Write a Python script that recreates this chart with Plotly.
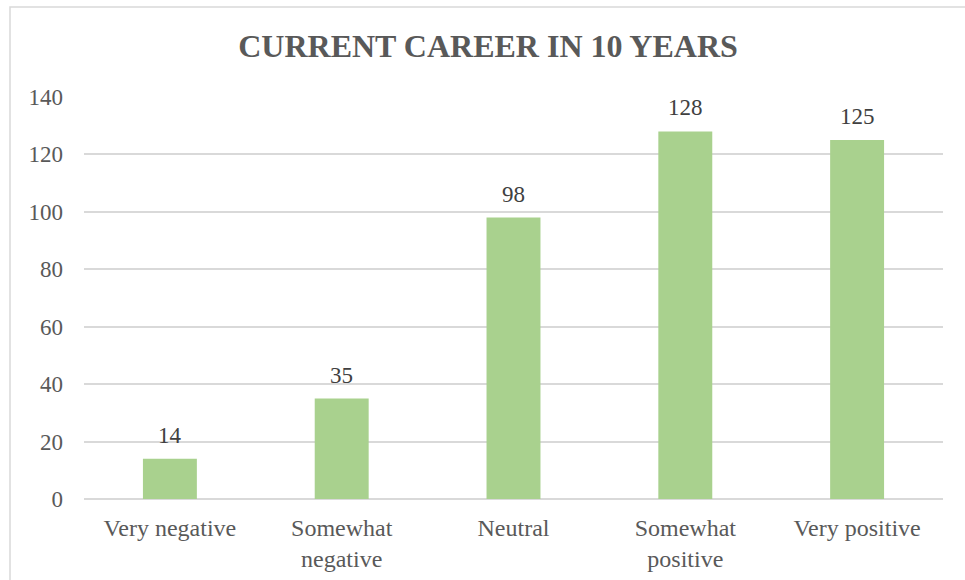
import plotly.graph_objects as go

categories = ["Very negative", "Somewhat<br>negative", "Neutral", "Somewhat<br>positive", "Very positive"]
counts = [14, 35, 98, 128, 125]
y_ticks = [0, 20, 40, 60, 80, 100, 120, 140]

FONT = "Liberation Serif"
BAR_COLOR = "#a9d18e"
GRID = "#d9d9d9"

fig = go.Figure(
    go.Bar(
        x=categories,
        y=counts,
        marker=dict(color=BAR_COLOR, line=dict(width=0)),
        hoverinfo="x+y",
    )
)

# value labels above each bar
for cat, val in zip(categories, counts):
    fig.add_annotation(
        x=cat, y=val, text=str(val), showarrow=False,
        yanchor="bottom", yshift=9,
        font=dict(family=FONT, size=23, color="#404040"),
    )

# outer chart frame
L, R, T, B = 84, 22, 97, 81
W, H = 965, 580
pw, ph = W - L - R, H - T - B
fig.add_shape(
    type="rect", xref="paper", yref="paper",
    x0=(10 - L) / pw, x1=(990 - L) / pw,
    y0=(H - B - 600) / ph, y1=(H - B - 7) / ph,
    line=dict(color=GRID, width=1.5), fillcolor="rgba(0,0,0,0)", layer="below",
)

fig.update_layout(
    width=W, height=H,
    margin=dict(l=L, r=R, t=T, b=B),
    paper_bgcolor="white", plot_bgcolor="white",
    bargap=0.686,
    showlegend=False,
    title=dict(
        text="<b>CURRENT CAREER IN 10 YEARS</b>",
        x=(488 - 0) / W, xanchor="center",
        y=1 - 46 / H, yanchor="middle",
        font=dict(family=FONT, size=32, color="#595959"),
    ),
    xaxis=dict(
        automargin=False,
        showgrid=False, showline=False, zeroline=False,
        ticks="", ticklabelstandoff=12,
        tickfont=dict(family=FONT, size=24, color="#595959"),
    ),
    yaxis=dict(
        automargin=False,
        range=[0, 140], tickvals=y_ticks,
        showgrid=True, gridcolor=GRID, gridwidth=1.5,
        zeroline=True, zerolinecolor=GRID, zerolinewidth=1.5,
        showline=False, ticks="", ticklabelstandoff=20,
        tickfont=dict(family=FONT, size=23, color="#595959"),
    ),
)

fig.write_html("out.html")
